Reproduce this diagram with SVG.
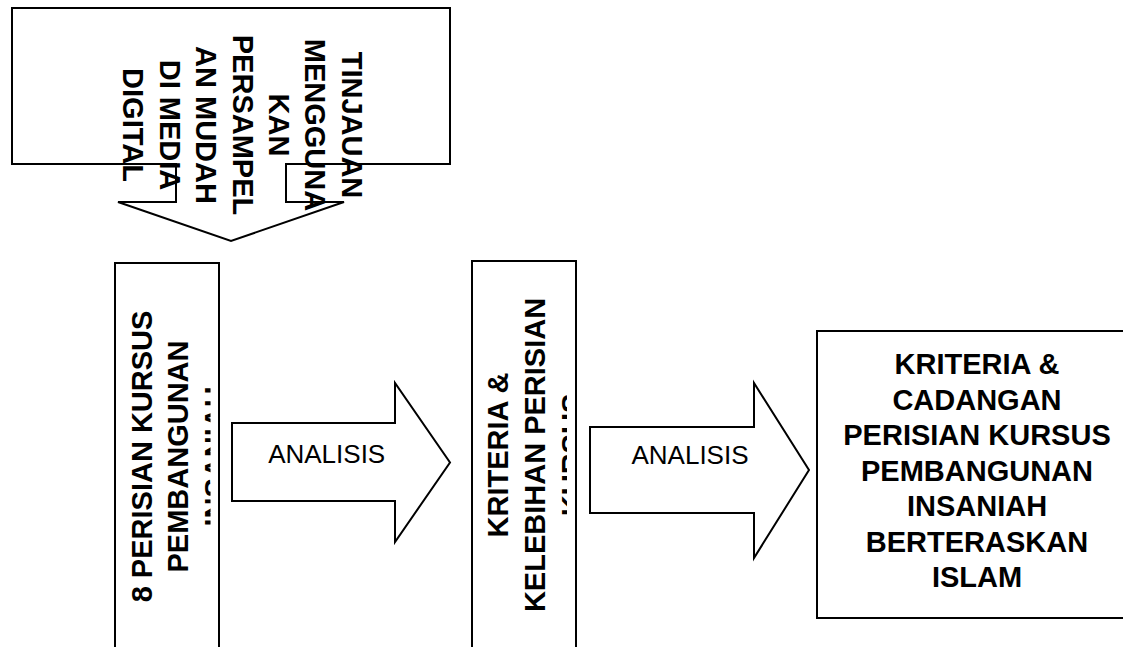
<svg xmlns="http://www.w3.org/2000/svg" width="1123" height="647" viewBox="0 0 1123 647">
<style>
.shape{fill:#fff;stroke:#000;stroke-width:2;stroke-linejoin:miter}
.b{font-family:"Liberation Sans",Arial,sans-serif;font-weight:bold;font-size:29px;fill:#000;text-anchor:middle}
.r{font-family:"Liberation Sans",Arial,sans-serif;font-size:26px;fill:#000;text-anchor:middle}
</style>
<defs>
<clipPath id="clip1"><rect x="115" y="263" width="95.5" height="400"/></clipPath>
<clipPath id="clip2"><rect x="472" y="261" width="95" height="400"/></clipPath>
</defs>
<rect width="1123" height="647" fill="#fff"/>
<g id="top-callout">
<polygon class="shape" points="12,8 450,8 450,164 286,164 286,202 344,202 231,241 118,202 176,202 176,164 12,164"/>
<text class="b" transform="translate(341.7,125) rotate(90)">TINJAUAN</text>
<text class="b" transform="translate(305.3,125) rotate(90)">MENGGUNA</text>
<text class="b" transform="translate(268.9,125) rotate(90)">KAN</text>
<text class="b" transform="translate(232.5,125) rotate(90)">PERSAMPEL</text>
<text class="b" transform="translate(196.1,125) rotate(90)">AN MUDAH</text>
<text class="b" transform="translate(159.7,125) rotate(90)">DI MEDIA</text>
<text class="b" transform="translate(123.3,125) rotate(90)">DIGITAL</text>
</g>
<g id="box1">
<rect class="shape" x="115" y="263" width="104" height="400"/>
<g clip-path="url(#clip1)">
<text class="b" transform="translate(151.7,456.5) rotate(-90)">8 PERISIAN KURSUS</text>
<text class="b" transform="translate(188.3,456.5) rotate(-90)">PEMBANGUNAN</text>
<text class="b" transform="translate(224.9,456.5) rotate(-90)">INSANIAH</text>
</g>
</g>
<g id="box2">
<rect class="shape" x="472" y="261" width="104" height="400"/>
<g clip-path="url(#clip2)">
<text class="b" transform="translate(508.3,455) rotate(-90)">KRITERIA &amp;</text>
<text class="b" transform="translate(545,455) rotate(-90)">KELEBIHAN PERISIAN</text>
<text class="b" transform="translate(581.7,455) rotate(-90)">KURSUS</text>
</g>
</g>
<g id="connectors">
<g id="arrow1">
<polygon class="shape" points="232,423 395,423 395,383 450,462.5 395,542 395,501 232,501"/>
<text class="r" x="326.7" y="463.3">ANALISIS</text>
</g>
<g id="arrow2">
<polygon class="shape" points="590,427 754,427 754,383 809,470 754,558 754,513 590,513"/>
<text class="r" x="690" y="464.3">ANALISIS</text>
</g>
</g>
<g id="box3">
<rect class="shape" x="817" y="331" width="320" height="287"/>
<text class="b" x="977" y="374">KRITERIA &amp;</text>
<text class="b" x="977" y="409.5">CADANGAN</text>
<text class="b" x="977" y="445">PERISIAN KURSUS</text>
<text class="b" x="977" y="480.5">PEMBANGUNAN</text>
<text class="b" x="977" y="516">INSANIAH</text>
<text class="b" x="977" y="551.5">BERTERASKAN</text>
<text class="b" x="977" y="587">ISLAM</text>
</g>
</svg>
